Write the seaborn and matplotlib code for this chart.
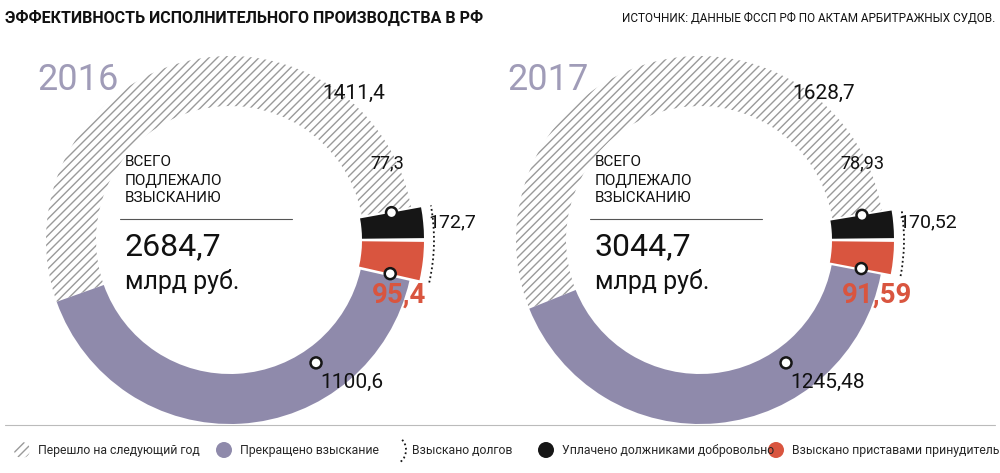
import numpy as np
import matplotlib
matplotlib.use("Agg")
import matplotlib.pyplot as plt
from matplotlib.patches import Wedge, Arc, Circle
import seaborn as sns

sns.set_theme(style="white")
plt.rcParams["font.family"] = ["Roboto", "DejaVu Sans"]
plt.rcParams["hatch.color"] = "#9a9a9a"
plt.rcParams["hatch.linewidth"] = 1.0

years = ["2016", "2017"]
carried_over = [1411.4, 1628.7]
terminated = [1100.6, 1245.48]
voluntary = [77.3, 78.93]
forced = [95.4, 91.59]
collected = [172.7, 170.52]
total = [2684.7, 3044.7]
lbl_carried = ["1411,4", "1628,7"]
lbl_term = ["1100,6", "1245,48"]
lbl_vol = ["77,3", "78,93"]
lbl_forced = ["95,4", "91,59"]
lbl_coll = ["172,7", "170,52"]
lbl_total = ["2684,7", "3044,7"]

PURPLE = "#8f8aab"
RED = "#d9553f"
BLACK = "#161616"
W, H = 1000, 473

fig = plt.figure(figsize=(10, 4.73), dpi=100)
ax = fig.add_axes([0, 0, 1, 1])
ax.set_xlim(0, W); ax.set_ylim(0, H); ax.axis("off")

def Y(y): return H - y

centers = [(230, 240), (700, 240)]
R, w = 184, 50
for i in range(2):
    cx, cy = centers[i][0], Y(centers[i][1])
    t = total[i]
    tr = forced[i] / t * 360
    tb = voluntary[i] / t * 360
    th = carried_over[i] / t * 360
    ax.add_patch(Wedge((cx, cy), R, tb, tb + th, width=w, facecolor="white",
                       edgecolor="#9a9a9a", hatch="////", linewidth=0))
    ax.add_patch(Wedge((cx, cy), R, tb + th, 360 - tr, width=w, facecolor=PURPLE, linewidth=0))
    ox = 12
    ax.add_patch(Wedge((cx + ox, cy), R - 2, 0.6, tb, width=62, facecolor=BLACK, linewidth=0))
    ax.add_patch(Wedge((cx + ox, cy), R - 2, -tr, -0.6, width=62, facecolor=RED, linewidth=0))
    ax.add_patch(Arc((cx + ox, cy), 2 * (R + 8), 2 * (R + 8), theta1=-tr, theta2=tb,
                     linestyle=(0, (1, 1.5)), color=BLACK, lw=1.3))
    for ang, r, o in [(tb, 152, ox), (-tr, 152, ox), (-55, 150, 0)]:
        a = np.deg2rad(ang)
        ax.add_patch(Circle((cx + o + r * np.cos(a), cy + r * np.sin(a)), 5.5,
                            facecolor="white", edgecolor=BLACK, lw=1.8, zorder=5))
    dx = cx - 230
    ax.text(37 + dx, Y(80), years[i], fontsize=26, color="#a09cb8", va="center")
    ax.text(125 + dx, Y(180), "ВСЕГО\nПОДЛЕЖАЛО\nВЗЫСКАНИЮ", fontsize=11, va="center",
            linespacing=1.35, color="#111")
    ax.plot([120 + dx, 292 + dx], [Y(219), Y(219)], color="#555", lw=0.8)
    ax.text(125 + dx, Y(247), lbl_total[i], fontsize=23, va="center", color="#111")
    ax.text(125 + dx, Y(282), "млрд руб.", fontsize=18, va="center", color="#111")
    ax.text(322 + dx, Y(93), lbl_carried[i], fontsize=15, va="center", color="#111")
    ax.text(370 + dx, Y(163), lbl_vol[i], fontsize=13, va="center", color="#111")
    ax.text(428 + dx, Y(222), lbl_coll[i], fontsize=14, va="center", color="#111")
    ax.text(372 + dx, Y(295), lbl_forced[i], fontsize=20, fontweight="bold", va="center", color=RED)
    ax.text(320 + dx, Y(382), lbl_term[i], fontsize=15, va="center", color="#111")

ax.text(5, Y(18), "ЭФФЕКТИВНОСТЬ ИСПОЛНИТЕЛЬНОГО ПРОИЗВОДСТВА В РФ", fontsize=11.5,
        fontweight="bold", va="center", color="#111")
ax.text(995, Y(18), "ИСТОЧНИК: ДАННЫЕ ФССП РФ ПО АКТАМ АРБИТРАЖНЫХ СУДОВ.", fontsize=8.5,
        ha="right", va="center", color="#111")

ly = Y(450)
fs = 8.8
ax.add_patch(Circle((22, ly), 8, facecolor="white", edgecolor="#9a9a9a", hatch="////", lw=0))
ax.text(38, ly, "Перешло на следующий год", fontsize=fs, va="center")
ax.add_patch(Circle((224, ly), 8, facecolor=PURPLE, lw=0))
ax.text(240, ly, "Прекращено взыскание", fontsize=fs, va="center")
ax.add_patch(Arc((394, ly), 24, 28, theta1=-60, theta2=60, linestyle=(0, (1, 1.5)), color=BLACK, lw=1.3))
ax.text(412, ly, "Взыскано долгов", fontsize=fs, va="center")
ax.add_patch(Circle((546, ly), 8, facecolor=BLACK, lw=0))
ax.text(562, ly, "Уплачено должниками добровольно", fontsize=fs, va="center")
ax.add_patch(Circle((776, ly), 8, facecolor=RED, lw=0))
ax.text(792, ly, "Взыскано приставами принудительно", fontsize=fs, va="center")
ax.plot([5, 995], [Y(425), Y(425)], color="#bbb", lw=0.8)

fig.savefig("out.png", dpi=100)
